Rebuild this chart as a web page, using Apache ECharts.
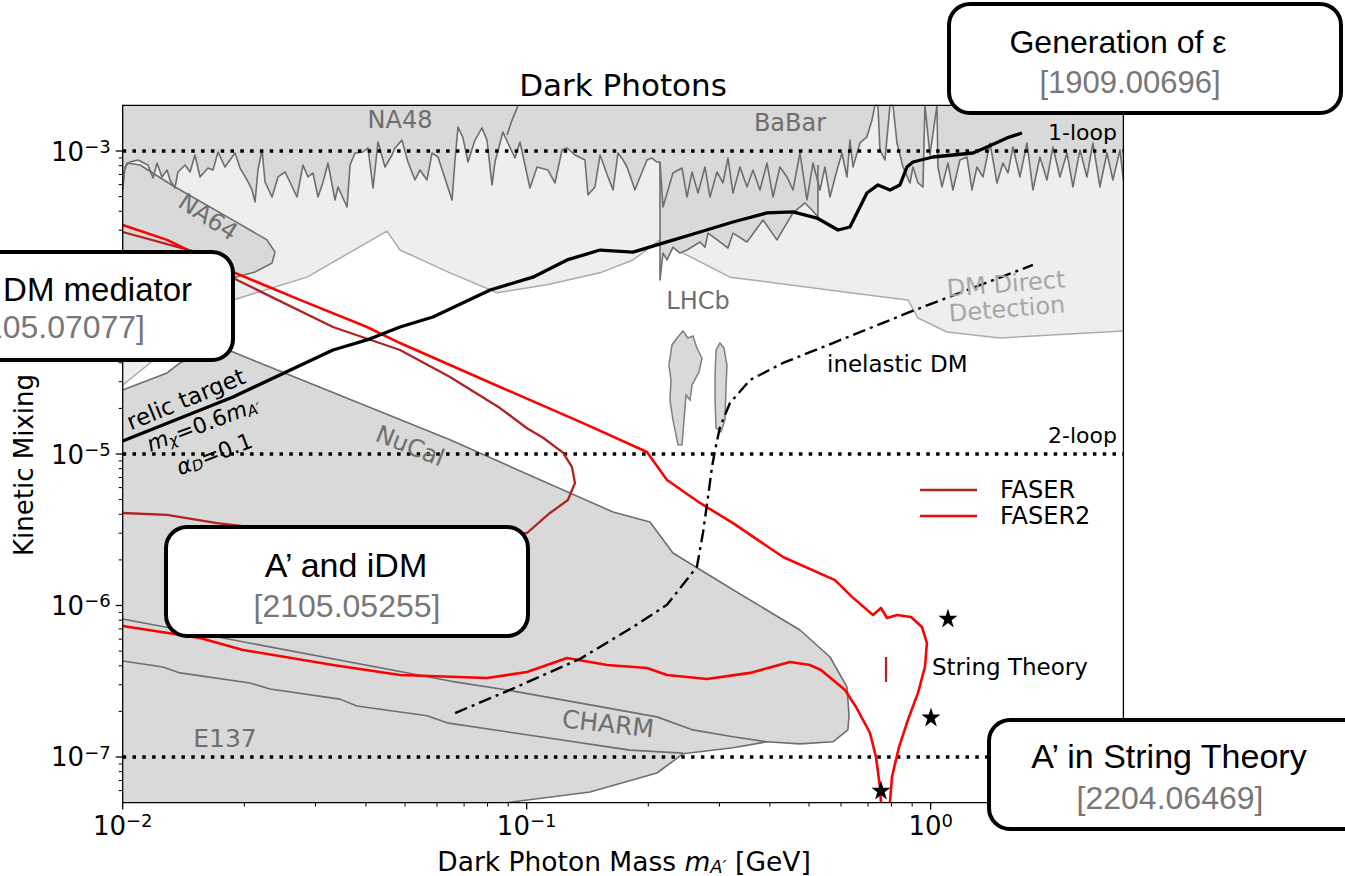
<!DOCTYPE html>
<html><head><meta charset="utf-8">
<script src="https://cdn.jsdelivr.net/npm/echarts@6/dist/echarts.min.js"></script>
<style>html,body{margin:0;padding:0;background:#fff}#c{width:1345px;height:876px}</style>
</head><body><div id="c"></div>
<script>
// ---------- axis ranges & ticks ----------
const xMin = 0.01, xMax = 3, yMin = 5e-8, yMax = 2e-3;
const xMajorTicks = [0.01, 0.1, 1];
const xMinorTicks = [0.02,0.03,0.04,0.05,0.06,0.07,0.08,0.09,0.2,0.3,0.4,0.5,0.6,0.7,0.8,0.9,2,3];
const yMajorTicks = [1e-7, 1e-6, 1e-5, 1e-4, 1e-3];
const yHiddenLabels = [1e-4]; // covered by the "DM mediator" box in the reference
const yMinorTicks = [6e-8,7e-8,8e-8,9e-8,2e-7,3e-7,4e-7,5e-7,6e-7,7e-7,8e-7,9e-7,2e-6,3e-6,4e-6,5e-6,6e-6,7e-6,8e-6,9e-6,
  2e-5,3e-5,4e-5,5e-5,6e-5,7e-5,8e-5,9e-5,2e-4,3e-4,4e-4,5e-4,6e-4,7e-4,8e-4,9e-4];
const loopLevels = [1e-3, 1e-5, 1e-7];

// ---------- NA48 / BaBar upper limit (jagged) ----------
const na48Jag = [[0.01,5.53e-4],[0.01013,7.84e-4],[0.01042,8.46e-4],[0.01091,8.72e-4],[0.01155,8.08e-4],[0.01189,6.63e-4],[0.01216,8.33e-4],[0.01251,6.74e-4],[0.01288,7.49e-4],[0.01309,6.44e-4],[0.01347,5.70e-4],[0.01370,7.27e-4],[0.01427,8.08e-4],[0.01468,7.27e-4],[0.01510,9.41e-4],[0.01554,6.74e-4],[0.01626,7.72e-4],[0.01673,7.49e-4],[0.01722,9.85e-4],[0.01791,7.84e-4],[0.01897,9.70e-4],[0.01952,7.72e-4],[0.02031,6.44e-4],[0.02090,5.53e-4],[0.02126,4.61e-4],[0.02162,7.49e-4],[0.02213,1.015e-3],[0.02251,6.24e-4],[0.02342,4.97e-4],[0.02424,6.74e-4],[0.02522,7.27e-4],[0.02595,6.24e-4],[0.02700,4.97e-4],[0.02794,8.08e-4],[0.02875,6.74e-4],[0.02958,7.16e-4],[0.03044,4.97e-4],[0.03133,6.24e-4],[0.03222,8.33e-4],[0.03354,4.75e-4],[0.03411,5.79e-4],[0.03592,4.27e-4],[0.03654,8.08e-4],[0.03758,9.70e-4],[0.03934,9.85e-4],[0.04048,1.047e-3],[0.04166,5.70e-4],[0.04285,1.147e-3],[0.04460,7.84e-4],[0.04641,9.41e-4],[0.04721,1.047e-3],[0.04912,1.18e-3],[0.05083,8.46e-4],[0.05290,6.44e-4],[0.05443,7.49e-4],[0.05665,6.44e-4],[0.05830,9.70e-4],[0.06032,9.13e-4],[0.06535,4.75e-4],[0.06647,8.72e-4],[0.06761,1.44e-3],[0.06956,1.22e-3],[0.07157,8.46e-4],[0.07447,1.18e-3],[0.07752,1.42e-3],[0.07976,1.18e-3],[0.08207,5.97e-4],[0.08349,8.46e-4],[0.08734,1.335e-3],[0.08987,1.13e-3],[0.09354,8.99e-4],[0.09625,1.147e-3],[0.1019,5.70e-4],[0.1061,7.84e-4],[0.1129,7.49e-4],[0.1175,6.15e-4],[0.1223,1.015e-3],[0.1259,1.047e-3],[0.1317,9.41e-4],[0.1394,8.72e-4],[0.1418,5.12e-4],[0.1476,5.79e-4],[0.1519,9.41e-4],[0.1590,6.74e-4],[0.1636,5.53e-4],[0.1683,9.70e-4],[0.1732,8.72e-4],[0.1772,7.84e-4],[0.1854,5.53e-4],[0.1908,6.74e-4],[0.1985,8.72e-4],[0.2042,8.99e-4],[0.2101,8.46e-4],[0.2138,8.46e-4]];
const babarInLhcb = [[0.2175,4.27e-4],[0.2302,7.16e-4],[0.2424,7.72e-4],[0.2494,4.97e-4],[0.2566,7.27e-4],[0.2655,5.28e-4],[0.2763,7.84e-4],[0.2843,4.97e-4],[0.2958,7.27e-4],[0.3061,6.15e-4],[0.3150,8.99e-4],[0.3241,5.28e-4],[0.3373,7.84e-4],[0.3510,5.79e-4],[0.3632,7.49e-4],[0.3780,5.53e-4],[0.3934,8.33e-4],[0.4072,4.97e-4],[0.4236,7.84e-4],[0.4409,6.74e-4],[0.4562,5.53e-4],[0.4748,9.70e-4],[0.4941,4.75e-4],[0.5113,8.33e-4]];
const babarJag = [[0.5321,5.53e-4],[0.5475,7.84e-4],[0.5634,4.97e-4],[0.5863,7.49e-4],[0.6032,9.70e-4],[0.6206,6.74e-4],[0.6313,1.18e-3],[0.6423,7.84e-4],[0.6683,1.13e-3],[0.6955,1.24e-3],[0.7157,1.60e-3],[0.7280,2.0e-3],[0.7406,2.0e-3],[0.7491,1.015e-3],[0.7708,8.72e-4],[0.7931,2.0e-3],[0.8068,2.0e-3],[0.8254,1.13e-3],[0.8540,7.84e-4],[0.8888,6.15e-4],[0.9041,7.84e-4],[0.9305,6.15e-4],[0.9570,5.79e-4],[0.9680,2.0e-3],[0.9961,9.41e-4],[1.0366,2.0e-3],[1.0425,7.84e-4],[1.0666,5.79e-4],[1.1036,8.33e-4],[1.1354,5.53e-4],[1.1815,8.72e-4],[1.2299,9.13e-4],[1.2654,5.53e-4],[1.3020,7.84e-4],[1.3474,6.74e-4],[1.4024,1.13e-3],[1.4596,6.15e-4],[1.5101,8.33e-4],[1.5536,7.16e-4],[1.5986,1.063e-3],[1.6634,6.74e-4],[1.7313,1.13e-3],[1.7914,5.53e-4],[1.8643,9.13e-4],[1.9406,6.44e-4],[2.0078,1.063e-3],[2.0893,6.74e-4],[2.1746,9.70e-4],[2.2502,5.79e-4],[2.3421,1.015e-3],[2.4372,6.74e-4],[2.5216,1.13e-3],[2.6243,5.79e-4],[2.7313,9.70e-4],[2.8261,6.44e-4],[2.9418,1.015e-3],[3.0,6.44e-4]];
const lhcbOutline = [[0.2138,8.46e-4],[0.2138,1.41e-4],[0.2175,2.12e-4],[0.2225,1.91e-4],[0.2302,2.32e-4],[0.2396,2.12e-4],[0.2494,2.22e-4],[0.2685,2.51e-4],[0.2763,2.32e-4],[0.2811,2.87e-4],[0.3010,2.51e-4],[0.3150,2.29e-4],[0.3241,2.87e-4],[0.3510,2.51e-4],[0.3846,3.50e-4],[0.4165,2.59e-4],[0.4562,3.90e-4],[0.4885,4.54e-4],[0.5084,4.08e-4],[0.5260,3.67e-4],[0.5260,8.08e-4]];
const na48Edge = [[0.0952,2.0e-3],[0.0920,1.60e-3],[0.0894,1.275e-3]];

// ---------- DM direct detection (light region lower edge) ----------
const dmDirect = [[0.01,2.85e-5],[0.01237,4.50e-5],[0.01875,1.04e-4],[0.0286,1.47e-4],[0.0451,2.96e-4],[0.0486,2.22e-4],[0.0646,1.57e-4],[0.0845,1.16e-4],[0.1122,1.31e-4],[0.1519,1.57e-4],[0.1833,1.91e-4],[0.2138,2.59e-4],[0.2438,2.12e-4],[0.3186,1.47e-4],[0.6313,1.16e-4],[0.8787,1.04e-4],[0.9305,7.90e-5],[1.097,6.39e-5],[1.485,5.83e-5],[3.0,6.49e-5]];

// ---------- NA64 ----------
const na64 = [[0.01,6.94e-4],[0.01025,8.33e-4],[0.01104,8.08e-4],[0.01347,5.79e-4],[0.01875,3.50e-4],[0.02276,2.59e-4],[0.02382,2.15e-4],[0.02342,1.82e-4],[0.02126,1.59e-4],[0.01897,1.47e-4],[0.01386,1.35e-4],[0.01,1.21e-4]];

// ---------- beam dumps (NuCal / CHARM / E137 union) ----------
const beamDump = [[0.01,2.65e-5],[0.01288,3.43e-5],[0.01386,3.99e-5],[0.0169,5.24e-5],[0.01875,4.71e-5],[0.0646,1.24e-5],[0.1636,4.14e-6],[0.2019,3.56e-6],[0.2302,2.22e-6],[0.3241,1.27e-6],[0.4748,6.89e-7],[0.5634,4.57e-7],[0.6206,2.90e-7],[0.628,1.89e-7],[0.624,1.51e-7],[0.573,1.26e-7],[0.4748,1.22e-7],[0.3934,1.26e-7],[0.3241,1.15e-7],[0.2438,1.05e-7],[0.2101,7.84e-8],[0.1435,5.88e-8],[0.0894,5.0e-8]];
const charmEdge = [[0.01,8.15e-7],[0.0646,3.17e-7],[0.0894,2.77e-7],[0.2101,1.84e-7],[0.258,1.51e-7],[0.3241,1.36e-7],[0.3934,1.26e-7]];
const e137Edge = [[0.01,4.30e-7],[0.01258,3.93e-7],[0.01386,3.59e-7],[0.02066,3.08e-7],[0.02315,2.81e-7],[0.0345,2.41e-7],[0.0380,2.17e-7],[0.0567,1.87e-7],[0.0635,1.68e-7],[0.1802,1.11e-7],[0.2438,1.06e-7]];

// ---------- LHCb islands ----------
const lhcbIsland1 = [[0.2289,5.24e-5],[0.2355,5.83e-5],[0.2438,6.49e-5],[0.2507,5.83e-5],[0.2580,6.01e-5],[0.2639,5.01e-5],[0.2716,4.30e-5],[0.2670,3.48e-5],[0.2566,2.85e-5],[0.2537,2.27e-5],[0.2480,2.45e-5],[0.2452,1.68e-5],[0.2424,1.15e-5],[0.2369,1.15e-5],[0.2302,1.68e-5],[0.2263,2.27e-5],[0.2276,3.08e-5],[0.2250,3.87e-5]];
const lhcbIsland2 = [[0.2943,4.86e-5],[0.3010,5.40e-5],[0.3079,5.01e-5],[0.3131,3.87e-5],[0.3114,2.65e-5],[0.3096,1.68e-5],[0.3027,1.40e-5],[0.2943,1.48e-5],[0.2926,2.27e-5],[0.2926,3.32e-5]];

// ---------- FASER sensitivities ----------
const faser = [[0.01,2.92e-4],[0.01554,2.12e-4],[0.01875,1.45e-4],[0.03315,6.89e-5],[0.04858,4.86e-5],[0.0646,3.22e-5],[0.0859,2.01e-5],[0.1002,1.48e-5],[0.1098,1.28e-5],[0.123,1.02e-5],[0.1294,8.21e-6],[0.1317,6.44e-6],[0.1265,4.97e-6],[0.1142,4.08e-6],[0.1002,3.01e-6],[0.0766,2.71e-6],[0.04858,2.79e-6],[0.02747,3.01e-6],[0.01712,3.50e-6],[0.01288,3.96e-6],[0.01,4.08e-6]];
const faserIsland = [[0.7754,4.57e-7],[0.7754,3.13e-7]];
const faser2Upper = [[0.01,3.25e-4],[0.01288,2.59e-4],[0.01875,1.59e-4],[0.02747,1.04e-4],[0.04025,6.89e-5],[0.04858,5.40e-5],[0.0859,2.77e-5],[0.1379,1.60e-5],[0.1985,1.03e-5],[0.2225,6.74e-6],[0.2685,4.75e-6],[0.3241,3.50e-6],[0.431,2.09e-6],[0.5797,1.47e-6],[0.6386,1.14e-6],[0.7198,8.66e-7],[0.7534,9.63e-7],[0.7798,8.27e-7],[0.8254,8.66e-7],[0.8939,8.40e-7],[0.9517,7.21e-7],[0.979,5.66e-7],[0.968,3.93e-7],[0.9305,2.65e-7],[0.8787,1.76e-7],[0.8347,1.16e-7],[0.8021,7.38e-8],[0.7931,5.0e-8]];
const faser2Lower = [[0.01,7.32e-7],[0.01554,6.10e-7],[0.01985,5.09e-7],[0.03315,4.05e-7],[0.04858,3.48e-7],[0.07976,3.32e-7],[0.1002,3.64e-7],[0.1259,4.50e-7],[0.1581,4.05e-7],[0.1985,3.87e-7],[0.2225,3.48e-7],[0.2795,3.27e-7],[0.3571,3.59e-7],[0.4486,4.24e-7],[0.5026,4.05e-7],[0.5353,3.75e-7],[0.6138,2.77e-7],[0.6534,2.14e-7],[0.7077,1.44e-7],[0.7322,1.0e-7],[0.7491,6.34e-8],[0.7534,5.0e-8]];

// ---------- theory curves ----------
const relicTarget = [[0.01,1.22e-5],[0.01875,2.38e-5],[0.03315,4.86e-5],[0.04025,5.66e-5],[0.04858,6.89e-5],[0.0586,8.02e-5],[0.0812,1.21e-4],[0.1036,1.47e-4],[0.1259,1.91e-4],[0.1519,2.22e-4],[0.1833,2.15e-4],[0.2225,2.51e-4],[0.2685,2.92e-4],[0.3241,3.40e-4],[0.3934,3.90e-4],[0.4562,3.96e-4],[0.5231,3.61e-4],[0.5898,3.01e-4],[0.6313,3.15e-4],[0.6955,5.28e-4],[0.7406,5.97e-4],[0.7931,5.53e-4],[0.8395,5.97e-4],[0.8736,7.84e-4],[0.9041,8.46e-4],[1.013,9.13e-4],[1.273,9.70e-4],[1.379,1.063e-3],[1.545,1.22e-3],[1.683,1.315e-3]];
const inelasticDM = [[0.0665,1.95e-7],[0.0909,2.77e-7],[0.1355,4.44e-7],[0.1833,7.21e-7],[0.2225,1.01e-6],[0.2639,1.80e-6],[0.2731,3.01e-6],[0.2811,5.20e-6],[0.2876,8.21e-6],[0.2926,1.06e-5],[0.301,1.51e-5],[0.3186,2.17e-5],[0.3571,3.08e-5],[0.431,3.99e-5],[0.573,5.40e-5],[0.8888,8.66e-5],[1.791,1.77e-4]];
const stringStars = [[1.1036,8.27e-7],[1.0018,1.84e-7],[0.7534,6.06e-8]];

// ---------- styles ----------
const DARK = '#d9d9d9', LIGHT = '#eeeeee', EDGE = '#6e6e6e', LEDGE = '#ababab';
const FONT = 'DejaVu Sans', BOXFONT = 'Liberation Sans';

function fillSeries(pts, fill, z, stroke, lw) {
  return {type: 'custom', coordinateSystem: 'cartesian2d', data: [[xMin, yMin]], z, silent: true, clip: false,
    renderItem: (params, api) => ({type: 'polygon', shape: {points: pts.map(p => api.coord(p))},
      style: {fill, stroke: stroke || 'none', lineWidth: lw || 0}})};
}
function lineSeries(name, data, color, width, z, dash) {
  return {type: 'line', name, data, symbol: 'none', showSymbol: false, silent: true, z, color,
    itemStyle: {color}, lineStyle: {color, width, type: dash || 'solid', cap: 'butt', join: 'round'},
    clip: true, animation: false};
}
function tickFrame(params, api) {
  const ch = [];
  const bl = api.coord([xMin, yMin]), tr = api.coord([xMax, yMax]);
  ch.push({type: 'rect', shape: {x: bl[0], y: tr[1], width: tr[0] - bl[0], height: bl[1] - tr[1]},
    style: {fill: 'none', stroke: '#000', lineWidth: 1.3}});
  const st = {stroke: '#000', lineWidth: 1.3};
  xMajorTicks.forEach(v => { const p = api.coord([v, yMin]); ch.push({type: 'line', shape: {x1: p[0], y1: p[1], x2: p[0], y2: p[1] + 7}, style: st}); });
  xMinorTicks.forEach(v => { const p = api.coord([v, yMin]); ch.push({type: 'line', shape: {x1: p[0], y1: p[1], x2: p[0], y2: p[1] + 4}, style: {stroke: '#000', lineWidth: 1}}); });
  yMajorTicks.forEach(v => { const p = api.coord([xMin, v]); ch.push({type: 'line', shape: {x1: p[0], y1: p[1], x2: p[0] - 7, y2: p[1]}, style: st}); });
  yMinorTicks.forEach(v => { const p = api.coord([xMin, v]); ch.push({type: 'line', shape: {x1: p[0], y1: p[1], x2: p[0] - 4, y2: p[1]}, style: {stroke: '#000', lineWidth: 1}}); });
  return {type: 'group', children: ch};
}
function powLabel(v, hidden) {
  const e = Math.log10(v), r = Math.round(e);
  if (Math.abs(e - r) > 1e-6) return '';
  if (hidden && hidden.some(h => Math.abs(Math.log10(h) - r) < 1e-6)) return '';
  return '{b|10}{s|' + (r < 0 ? '\u2212' + (-r) : String(r)) + '}';
}
const tickRich = {
  b: {fontFamily: FONT, fontSize: 26, lineHeight: 27, verticalAlign: 'bottom', color: '#000'},
  s: {fontFamily: FONT, fontSize: 18, lineHeight: 18, verticalAlign: 'top', color: '#000'}
};
function mathRich(base, sub, pad) {
  return {
    n: {fontFamily: FONT, fontSize: base, lineHeight: base + 4, verticalAlign: 'top', color: '#000'},
    i: {fontFamily: FONT, fontStyle: 'italic', fontSize: base, lineHeight: base + 4, verticalAlign: 'top', color: '#000'},
    s: {fontFamily: FONT, fontStyle: 'italic', fontSize: sub, lineHeight: sub + 4, padding: [pad, 0, 0, 0], verticalAlign: 'top', color: '#000'}
  };
}
function txt(text, x, y, size, color, opts) {
  opts = opts || {};
  return {type: 'text', x, y, rotation: opts.rot || 0, z: opts.z || 50, silent: true,
    style: {text, fontFamily: opts.family || FONT, fontSize: size, fill: color, align: opts.align || 'center',
      verticalAlign: 'middle', rich: opts.rich}};
}
function box(x, y, w, h) {
  return {type: 'rect', z: 100, silent: true, shape: {x, y, width: w, height: h, r: 21},
    style: {fill: '#fff', stroke: '#000', lineWidth: 4}};
}

const topDark = [[xMin, yMax], ...na48Jag, ...lhcbOutline.slice(1), ...babarJag, [xMax, yMax]];
const lightFill = [[xMin, yMax], [xMax, yMax], ...dmDirect.slice().reverse()];
const jagLine = [...na48Jag, ...babarInLhcb, ...babarJag];
const dumpFill = [...beamDump, [xMin, yMin]];

const chart = echarts.init(document.getElementById('c'), null, {renderer: 'svg'});
chart.setOption({
  animation: false,
  backgroundColor: '#fff',
  grid: {left: 122.7, right: 221.6, top: 105.4, bottom: 73.4, show: false},
  xAxis: {type: 'log', logBase: 10, min: xMin, max: xMax,
    axisLine: {show: false}, axisTick: {show: false}, splitLine: {show: false}, minorTick: {show: false},
    axisLabel: {formatter: v => powLabel(v), rich: tickRich, margin: 9, showMinLabel: true, showMaxLabel: false}},
  yAxis: {type: 'log', logBase: 10, min: yMin, max: yMax,
    axisLine: {show: false}, axisTick: {show: false}, splitLine: {show: false}, minorTick: {show: false},
    axisLabel: {formatter: v => powLabel(v, yHiddenLabels), rich: tickRich, margin: 12, showMinLabel: false, showMaxLabel: false}},
  legend: {show: true, orient: 'vertical', left: 920, top: 478, padding: 0, itemGap: 2, itemWidth: 57, itemHeight: 2.5,
    selectedMode: false, data: [{name: 'FASER', icon: 'rect'}, {name: 'FASER2', icon: 'rect'}],
    textStyle: {fontFamily: FONT, fontSize: 24, color: '#000', lineHeight: 24, padding: [0, 0, 0, 18]}},
  series: [
    fillSeries(lightFill, LIGHT, 1),
    lineSeries('dmdd', dmDirect, LEDGE, 1.5, 2),
    fillSeries(topDark, DARK, 3),
    fillSeries(na64, DARK, 3),
    fillSeries(dumpFill, DARK, 3),
    fillSeries(lhcbIsland1, DARK, 3, '#7f7f7f', 1.5),
    fillSeries(lhcbIsland2, DARK, 3, '#7f7f7f', 1.5),
    lineSeries('jag', jagLine, EDGE, 1.6, 4),
    lineSeries('lhcb', lhcbOutline, EDGE, 1.6, 4),
    lineSeries('na48edge', na48Edge, EDGE, 1.6, 4),
    lineSeries('na64', na64, EDGE, 1.6, 4),
    lineSeries('nucal', beamDump, EDGE, 1.6, 4),
    lineSeries('charm', charmEdge, EDGE, 1.6, 4),
    lineSeries('e137', e137Edge, EDGE, 1.6, 4),
    ...loopLevels.map((v, k) => lineSeries('loop' + k, [[xMin, v], [xMax, v]], '#000', 3.5, 5, [3.5, 6.3])),
    lineSeries('FASER', faser, '#b22222', 2.3, 6),
    lineSeries('FASER', faserIsland, '#b22222', 2.3, 6),
    lineSeries('FASER2', faser2Upper, '#ff0000', 2.6, 6),
    lineSeries('FASER2', faser2Lower, '#ff0000', 2.6, 6),
    lineSeries('relic', relicTarget, '#000', 3.3, 6),
    lineSeries('idm', inelasticDM, '#000', 2.4, 6, [13, 5, 3, 5]),
    {type: 'scatter', name: 'stars', data: stringStars, z: 7, silent: true,
      symbol: 'path://M50,0 L61.2,34.5 L97.6,34.5 L68.2,55.9 L79.4,90.5 L50,69.1 L20.6,90.5 L31.8,55.9 L2.4,34.5 L38.8,34.5 Z',
      symbolSize: 19, itemStyle: {color: '#000', opacity: 1}},
    {type: 'custom', coordinateSystem: 'cartesian2d', data: [[xMin, yMin]], z: 9, silent: true, clip: false, renderItem: tickFrame}
  ],
  graphic: {elements: [
    txt('Dark Photons', 623, 85, 31, '#000'),
    txt('Kinetic Mixing', 24, 465, 26, '#000', {rot: Math.PI / 2}),
    txt('{n|Dark Photon Mass }{i|m}{s|A\u2032}{n| [GeV]}', 624, 863, 26.5, '#000', {rich: mathRich(26.5, 18, 10)}),
    txt('NA48', 400, 120, 24, EDGE),
    txt('BaBar', 790, 123, 24, EDGE),
    txt('NA64', 208, 217, 24, EDGE, {rot: -0.58}),
    txt('LHCb', 698, 301, 24, EDGE),
    txt('DM Direct', 1006, 284, 24, '#a6a6a6', {rot: 0.08}),
    txt('Detection', 1007, 309, 24, '#a6a6a6', {rot: 0.08}),
    txt('relic target', 186, 399, 23, '#000', {rot: 0.39}),
    txt('{i|m}{s|\u03c7}{n|=0.6}{i|m}{s|A\u2032}', 204, 426, 22, '#000', {rot: 0.36, rich: mathRich(22, 15, 8)}),
    txt('{i|\u03b1}{s|D}{n|=0.1}', 215, 456, 22, '#000', {rot: 0.37, rich: mathRich(22, 15, 8)}),
    txt('NuCal', 410, 446, 24, EDGE, {rot: -0.38}),
    txt('inelastic DM', 827, 364, 23, '#000', {align: 'left'}),
    txt('1-loop', 1117, 132, 22, '#000', {align: 'right'}),
    txt('2-loop', 1117, 435, 22, '#000', {align: 'right'}),
    txt('String Theory', 932, 667, 23, '#000', {align: 'left'}),
    txt('CHARM', 608, 724, 25, EDGE, {rot: -0.11}),
    txt('E137', 225, 738, 25, EDGE),
    box(949, 4, 392, 109),
    txt('Generation of \u03b5', 1118, 42, 32, '#000', {family: BOXFONT, z: 101}),
    txt('[1909.00696]', 1130, 82, 31, '#777777', {family: BOXFONT, z: 101}),
    box(-40, 252, 273, 108),
    txt('DM mediator', 192, 289, 33, '#000', {family: BOXFONT, z: 101, align: 'right'}),
    txt('[2105.07077]', 145, 327, 32, '#777777', {family: BOXFONT, z: 101, align: 'right'}),
    box(166, 527, 362, 109),
    txt('A\u2019 and iDM', 346, 565, 34, '#000', {family: BOXFONT, z: 101}),
    txt('[2105.05255]', 347, 606, 32, '#777777', {family: BOXFONT, z: 101}),
    box(989, 720, 380, 109),
    txt('A\u2019 in String Theory', 1169, 756, 34, '#000', {family: BOXFONT, z: 101}),
    txt('[2204.06469]', 1170, 798, 32, '#777777', {family: BOXFONT, z: 101})
  ]}
});
</script>
</body></html>
